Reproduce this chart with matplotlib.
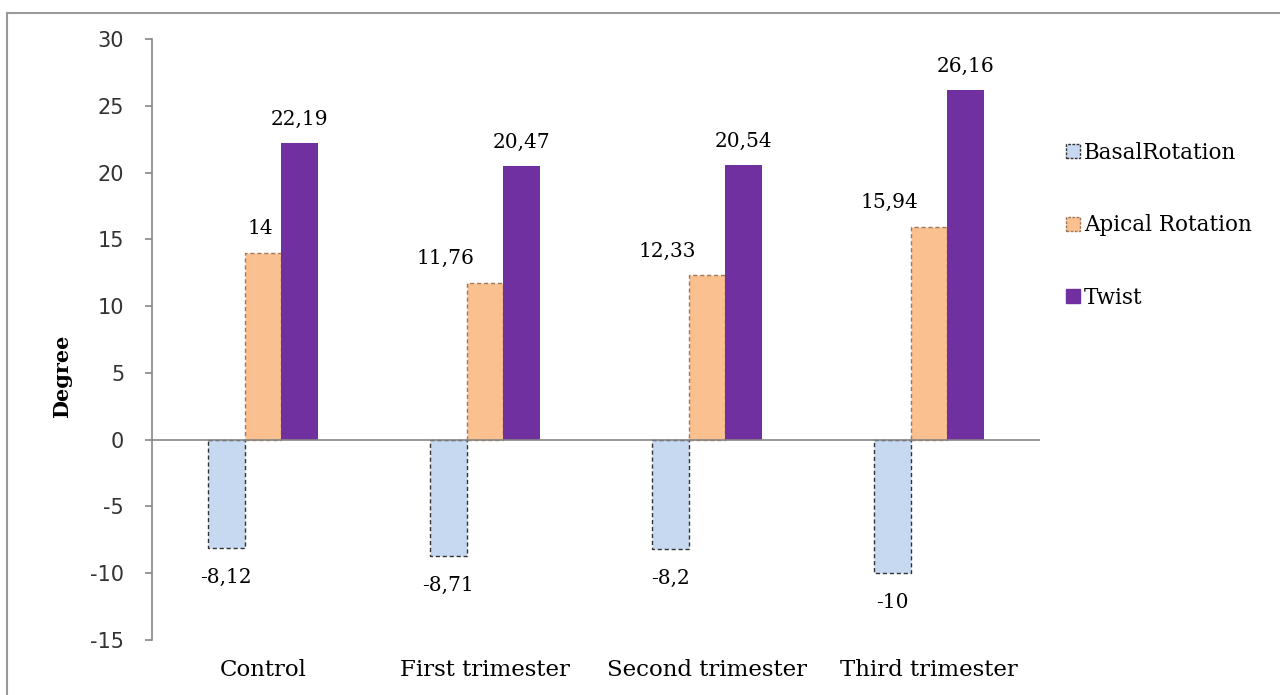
import numpy as np
import matplotlib.pyplot as plt
from matplotlib.lines import Line2D
from matplotlib.patches import Patch

groups = ['Control', 'First trimester', 'Second trimester', 'Third trimester']
basal = [-8.12, -8.71, -8.2, -10]
apical = [14, 11.76, 12.33, 15.94]
twist = [22.19, 20.47, 20.54, 26.16]
basal_txt = ['-8,12', '-8,71', '-8,2', '-10']
apical_txt = ['14', '11,76', '12,33', '15,94']
twist_txt = ['22,19', '20,47', '20,54', '26,16']

plt.rcParams['axes.unicode_minus'] = False
serif = 'DejaVu Serif'
grey = '#868686'

fig = plt.figure(figsize=(12.8, 6.95), dpi=100)
ax = fig.add_axes([0.11875, 0.0791, 0.69375, 0.8648])

x = np.arange(len(groups))
w = 0.166

ax.bar(x - w, basal, w, color='#C6D9F1', edgecolor='#333333',
       linestyle=(0, (3, 2)), linewidth=1.0)
ax.bar(x, apical, w, color='#FAC090', edgecolor='#A0785A',
       linestyle=(0, (3, 2)), linewidth=1.0)
ax.bar(x + w, twist, w, color='#7030A0', edgecolor='#7030A0', linewidth=0)

# apical labels sit a little to the left of their bars
apical_dx = [-0.014, -0.18, -0.18, -0.18]
for i in range(len(groups)):
    ax.text(x[i] - w, basal[i] - 2.2, basal_txt[i], ha='center', va='center',
            fontsize=14.5, family=serif)
    ax.text(x[i] + apical_dx[i], apical[i] + 1.8, apical_txt[i],
            ha='center', va='center', fontsize=14.5, family=serif)
    ax.text(x[i] + w, twist[i] + 1.8, twist_txt[i], ha='center', va='center',
            fontsize=14.5, family=serif)

ax.axhline(0, color=grey, linewidth=1.2, zorder=3)
ax.set_xlim(-0.5, 3.5)
ax.set_ylim(-15, 30)
ax.set_yticks(range(-15, 31, 5))
ax.set_xticks(x)
ax.set_xticklabels(groups, family=serif, fontsize=16.5)
ax.tick_params(axis='x', length=0, pad=14)
ax.tick_params(axis='y', direction='out', length=5, width=1.2, color=grey,
               labelsize=15, pad=15)
for lbl in ax.get_yticklabels():
    lbl.set_family('DejaVu Sans')
    lbl.set_color('#333333')

for s in ['top', 'right', 'bottom']:
    ax.spines[s].set_visible(False)
ax.spines['left'].set_color(grey)
ax.spines['left'].set_linewidth(1.2)

fig.text(62 / 1280, 1 - 376 / 695, 'Degree', rotation=90, ha='center',
         va='center', family=serif, fontsize=15, fontweight='bold')

handles = [
    Patch(facecolor='#C6D9F1', edgecolor='#333333', linestyle=(0, (2, 1))),
    Patch(facecolor='#FAC090', edgecolor='#A0785A', linestyle=(0, (2, 1))),
    Patch(facecolor='#7030A0', edgecolor='#7030A0'),
]
fig.legend(handles, ['BasalRotation', 'Apical Rotation', 'Twist'],
           loc='upper left', bbox_to_anchor=(0.818, 0.824), frameon=False,
           prop={'family': serif, 'size': 15.5}, handlelength=0.65,
           handleheight=0.65, handletextpad=0.15, labelspacing=2.35)

# outer chart frame
fig.add_artist(Line2D([7 / 1280, 1.0], [1 - 13 / 695, 1 - 13 / 695],
                      color='#9a9a9a', linewidth=1.5))
fig.add_artist(Line2D([7 / 1280, 7 / 1280], [0.0, 1 - 13 / 695],
                      color='#9a9a9a', linewidth=1.5))

fig.savefig('out.png', dpi=100)
